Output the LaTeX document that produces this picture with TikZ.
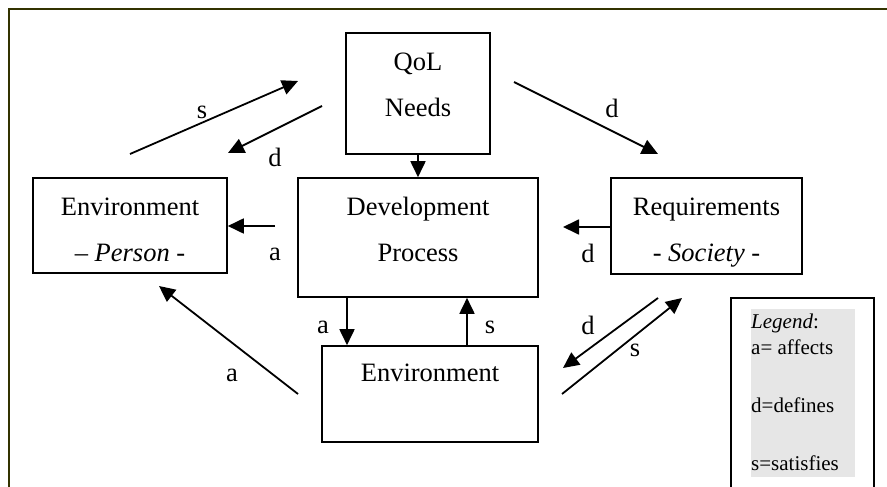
\documentclass[tikz,border=0pt]{standalone}
\usepackage{fontspec}
\setmainfont{Liberation Serif}
\usetikzlibrary{arrows.meta}
\definecolor{frameolive}{HTML}{333300}
\definecolor{leggray}{HTML}{E6E6E6}
\tikzset{
  box/.style={draw,line width=1.6pt,inner sep=0pt},
  boxtxt/.style={align=center,inner sep=0pt,font=\fontsize{26.5}{46}\selectfont},
  lbl/.style={font=\fontsize{26.5}{30}\selectfont,inner sep=0pt},
  legtxt/.style={font=\fontsize{21}{24}\selectfont,anchor=west,inner sep=0pt},
  arr/.style={-{Triangle[length=16pt,width=15pt]},line width=1.8pt},
}

\begin{document}
\begin{tikzpicture}[x=1pt,y=-1pt]
    \useasboundingbox (0,0) rectangle (887,487);
    % outer frame
    \draw[frameolive,line width=2.5pt] (887,9) -- (9,9) -- (9,487);
    % boxes
    \node[box,minimum width=144,minimum height=121] (qol) at (418,93.5) {};
    \node[box,minimum width=240,minimum height=119] (dev) at (418,237.5) {};
    \node[box,minimum width=194,minimum height=95] (envp) at (130,225.5) {};
    \node[box,minimum width=191,minimum height=96] (req) at (706.5,226) {};
    \node[box,minimum width=216,minimum height=96] (env) at (430,394) {};
    % box texts
    \node[boxtxt] (qolt) at ([yshift=9pt]qol.center) {QoL\\Needs};
    \node[boxtxt] (devt) at ([yshift=8pt]dev.center) {Development\\Process};
    \node[boxtxt] (envpt) at ([yshift=-4pt]envp.center) {Environment\\-- \textit{Person} -};
    \node[boxtxt] (reqt) at ([yshift=-7pt]req.center) {Requirements\\- \textit{Society} -};
    \node[boxtxt] (envt) at ([yshift=-2pt]env.center) {Environment\\~};
    % straight arrows
    \draw[arr] (qol) -- (dev);
    \coordinate (pa) at (275,226);
    \draw[arr] (pa) -- (pa -| envp.east);
    \node[lbl] (la1) at (275,254) {a};
    \coordinate (rd) at (563,227);
    \draw[arr] (rd -| req.west) -- (rd);
    \node[lbl] (ld1) at (588,253) {d};
    \coordinate (da) at ([xshift=-71pt]dev.south);
    \draw[arr] (da) -- (da |- env.north);
    \node[lbl] (la2) at (323,327) {a};
    \coordinate (ds) at ([xshift=49pt]dev.south);
    \draw[arr] (ds |- env.north) -- (ds);
    \node[lbl] (ls1) at (490,327) {s};
    % diagonal arrows
    \coordinate (pq1) at (130,154);
    \coordinate (pq2) at (298,81);
    \draw[arr] (pq1) -- (pq2);
    \node[lbl] (ls2) at (202,112) {s};
    \coordinate (qp1) at (322,106);
    \coordinate (qp2) at (228,153);
    \draw[arr] (qp1) -- (qp2);
    \node[lbl] (ld2) at (275,157) {d};
    \coordinate (qr1) at (514,82);
    \coordinate (qr2) at (658,154);
    \draw[arr] (qr1) -- (qr2);
    \node[lbl] (ld3) at (612,108) {d};
    \coordinate (ep1) at (298,394);
    \coordinate (ep2) at (159,286);
    \draw[arr] (ep1) -- (ep2);
    \node[lbl] (la3) at (232,375) {a};
    \coordinate (re1) at (658,298);
    \coordinate (re2) at (563,368);
    \draw[arr] (re1) -- (re2);
    \node[lbl] (ld4) at (588,325) {d};
    \coordinate (er1) at (562,394);
    \coordinate (er2) at (682,298);
    \draw[arr] (er1) -- (er2);
    \node[lbl] (ls3) at (635,350) {s};
    % legend
    \draw[line width=2pt] (731,487) -- (731,298) -- (874,298) -- (874,487);
    \fill[leggray] (751,309) rectangle (855,477);
    \node[legtxt] (leg0) at (751,323) {\textit{Legend}:};
    \node[legtxt] (leg1) at (751,347) {a= affects};
    \node[legtxt] (leg2) at (751,405) {d=defines};
    \node[legtxt] (leg3) at (751,463) {s=satisfies};
  \end{tikzpicture}
\end{document}
